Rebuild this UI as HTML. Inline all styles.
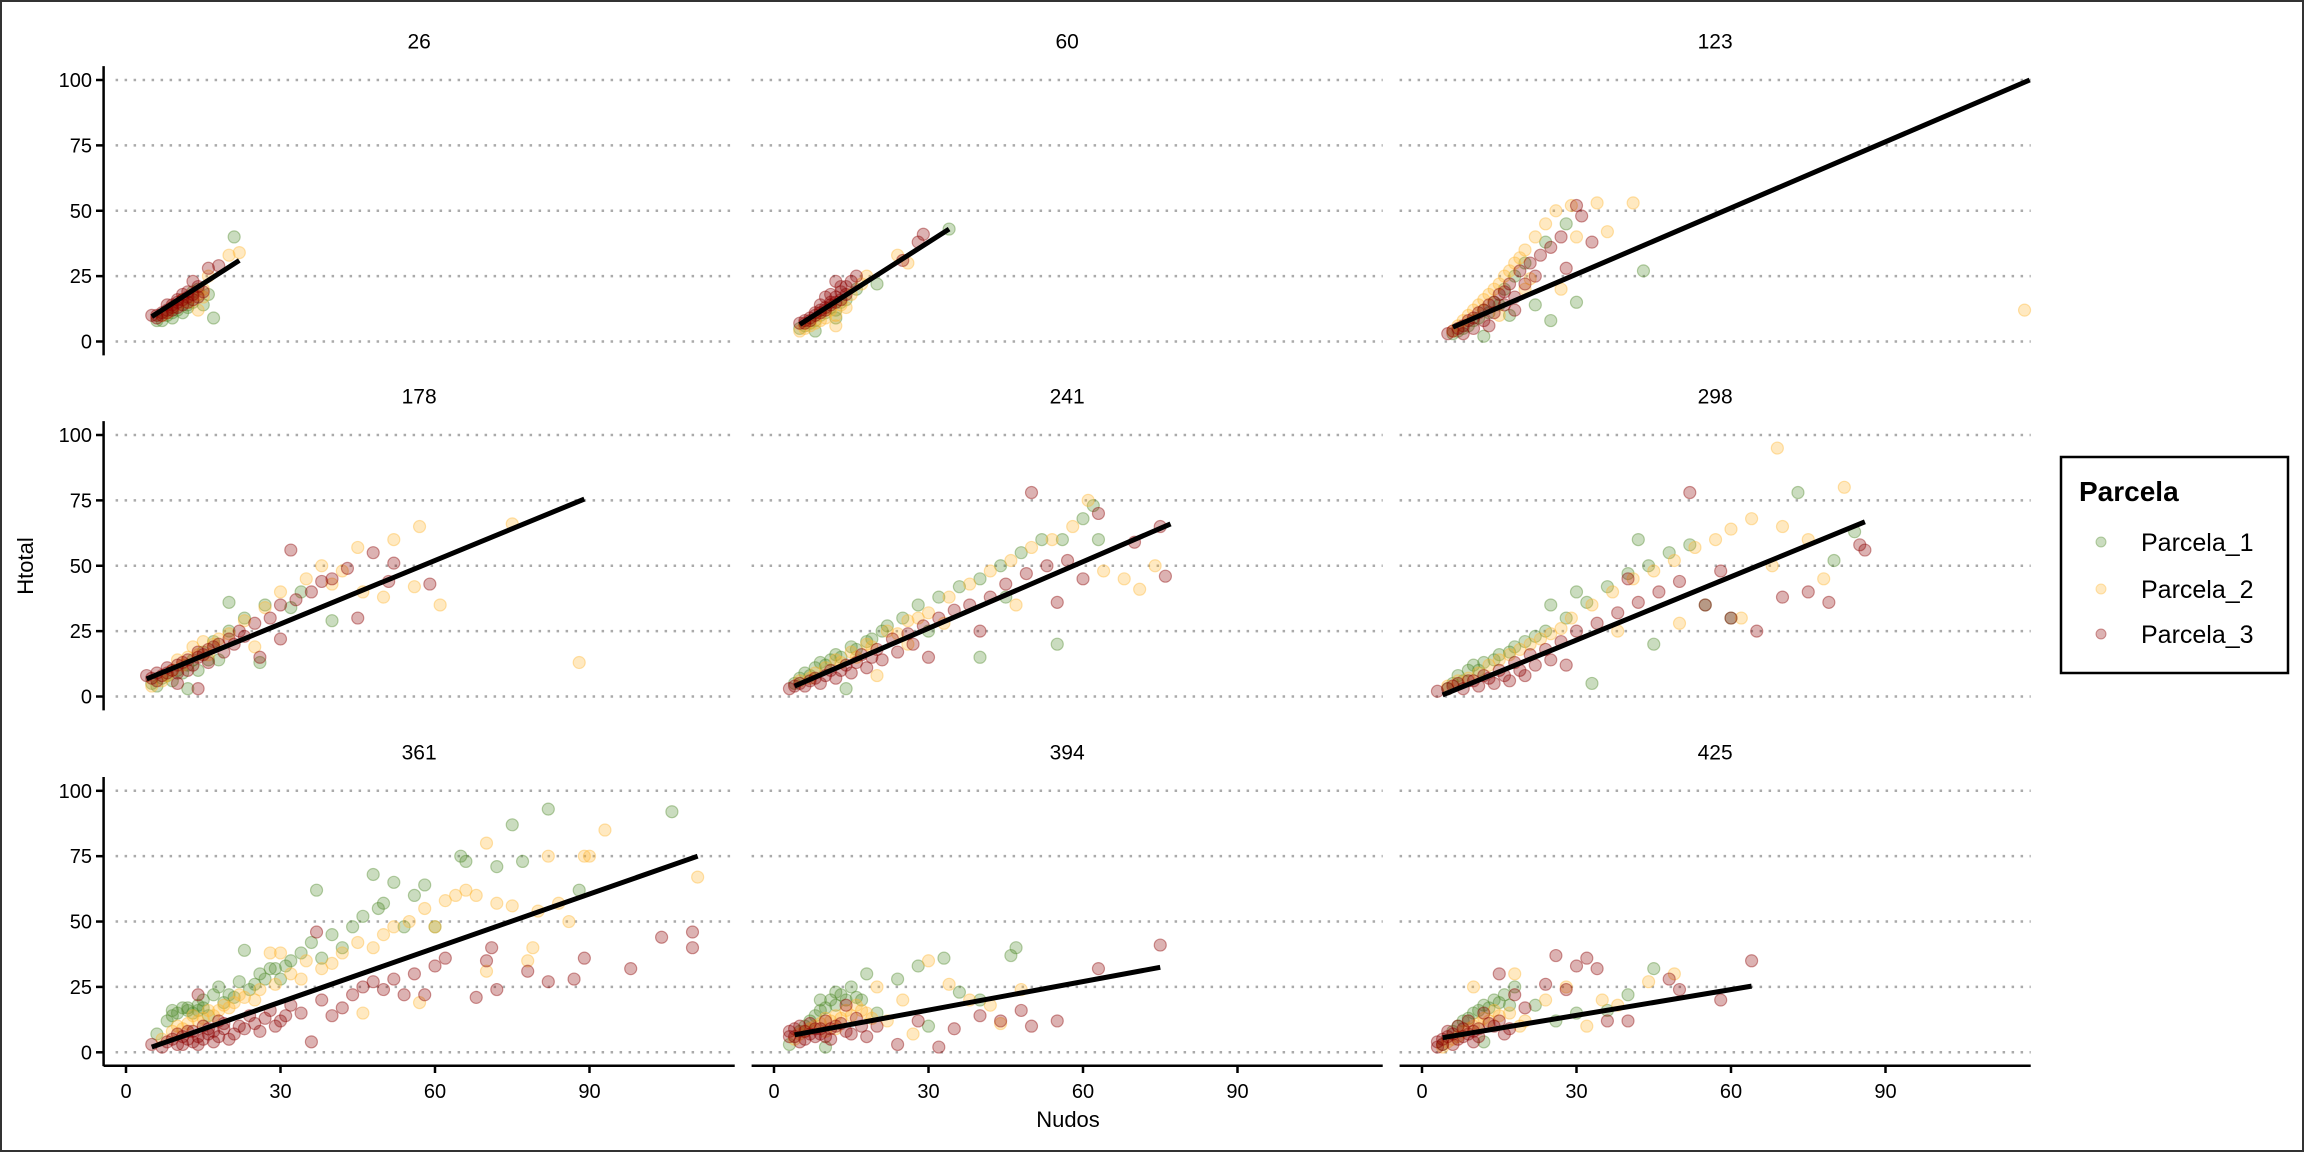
<!DOCTYPE html>
<html><head><meta charset="utf-8"><style>
html,body{margin:0;padding:0;background:#fff}
svg{display:block;font-family:"Liberation Sans",Arial,sans-serif}
</style></head><body>
<svg id="chart" width="2304" height="1152" viewBox="0 0 2304 1152">
<rect x="1" y="1" width="2302" height="1150" fill="#fff" stroke="#333" stroke-width="2"/>
<g id="panels"></g>
<text x="1068" y="1127" font-size="22" text-anchor="middle">Nudos</text>
<text x="0" y="0" font-size="22" text-anchor="middle" transform="translate(33,566) rotate(-90)">Htotal</text>
<g>
<rect x="2061" y="457" width="227" height="216" fill="#fff" stroke="#000" stroke-width="2.5"/>
<text x="2079" y="501" font-size="28" font-weight="bold">Parcela</text>
<g><circle cx="2101" cy="542" r="5" fill="#4f8a2a" fill-opacity="0.3" stroke="#4f8a2a" stroke-opacity="0.4"/><text x="2141" y="551" font-size="25">Parcela_1</text></g>
<g><circle cx="2101" cy="589" r="5" fill="#ffb733" fill-opacity="0.3" stroke="#ffb733" stroke-opacity="0.4"/><text x="2141" y="598" font-size="25">Parcela_2</text></g>
<g><circle cx="2101" cy="634" r="5" fill="#8b0000" fill-opacity="0.3" stroke="#8b0000" stroke-opacity="0.4"/><text x="2141" y="643" font-size="25">Parcela_3</text></g>
</g>
</svg>
<script>
const panelTitles = ["26","60","123","178","241","298","361","394","425"];
const yTicks = [0,25,50,75,100];
const xTicks = [0,30,60,90];
const fitLines = [[5,9.5,22,31],[5,6.5,34,43],[6,5.5,118,100],[4,6.7,89,75.5],[4,4,77,66],[4,0.6,86,66.8],[5,2,111,75],[4,6.7,75,32.5],[4,5.6,64,25.3]];
const p1 = [
[[6,8],[8,10],[10,12],[12,14],[13,19],[14,20],[17,9],[21,40],[9,11],[7,8],[9,9],[11,11],[12,13],[13,15],[15,14],[16,18]],
[[5,5],[7,7],[9,10],[11,13],[12,9],[14,16],[16,20],[20,22],[34,43],[8,4],[6,6],[8,8],[10,11],[12,12],[13,15]],
[[6,3],[8,5],[10,8],[12,12],[14,15],[16,20],[18,25],[20,30],[22,14],[25,8],[30,15],[28,45],[43,27],[24,38],[12,2],[17,10],[7,4],[9,6],[11,9],[13,11],[15,14]],
[[5,5],[8,8],[10,10],[13,14],[15,17],[17,21],[20,25],[23,30],[27,35],[32,34],[34,40],[26,13],[18,14],[12,3],[40,29],[20,36],[6,4],[7,7],[9,6],[11,9],[12,12],[14,10],[16,14]],
[[4,5],[7,8],[10,12],[13,15],[16,18],[19,22],[22,27],[25,30],[28,35],[32,38],[36,42],[40,45],[44,50],[48,55],[52,60],[56,60],[60,68],[62,73],[55,20],[40,15],[30,25],[14,3],[63,60],[45,38],[5,7],[6,9],[8,11],[9,13],[11,14],[12,16],[15,19],[18,21],[21,25]],
[[5,3],[8,6],[11,10],[14,14],[17,17],[20,21],[24,25],[28,30],[32,36],[36,42],[40,47],[44,50],[48,55],[52,58],[73,78],[80,52],[84,63],[60,30],[45,20],[30,40],[25,35],[42,60],[33,5],[55,35],[6,5],[7,8],[9,10],[10,12],[12,13],[15,16],[18,19],[22,23]],
[[6,7],[8,12],[9,16],[11,17],[12,16],[14,18],[15,20],[17,22],[18,25],[20,22],[22,27],[24,24],[26,30],[28,32],[30,28],[32,35],[34,38],[36,42],[37,62],[38,36],[40,45],[42,40],[44,48],[46,52],[48,68],[49,55],[50,57],[52,65],[54,48],[56,60],[58,64],[60,48],[65,75],[66,73],[72,71],[75,87],[77,73],[82,93],[106,92],[88,62],[23,39],[9,14],[10,15],[12,17],[13,15],[14,16],[15,17],[16,14],[19,19],[21,21],[25,26],[27,28],[29,32],[31,33]],
[[3,3],[5,8],[7,12],[9,16],[11,20],[13,22],[15,25],[17,20],[20,15],[24,28],[28,33],[33,36],[36,23],[40,20],[47,40],[46,37],[30,10],[10,2],[18,30],[6,10],[8,14],[10,17],[12,18],[14,20],[16,21],[12,23],[9,20]],
[[4,3],[6,8],[8,12],[10,15],[12,18],[14,20],[16,22],[18,25],[22,18],[26,12],[30,15],[36,16],[40,22],[45,32],[12,4],[7,10],[9,13],[11,16],[13,17],[15,19],[17,18]]
];
const p2 = [
[[7,10],[9,13],[11,16],[13,17],[14,12],[15,20],[16,25],[20,33],[22,34],[10,14],[8,11],[12,15],[14,18],[15,17]],
[[5,4],[7,6],[9,8],[11,12],[13,14],[15,18],[17,22],[18,25],[24,33],[26,30],[12,6],[6,5],[8,7],[10,9],[12,10],[14,13]],
[[6,4],[8,8],[10,12],[12,16],[14,20],[16,25],[18,30],[20,35],[22,40],[24,45],[26,50],[29,52],[34,53],[41,53],[117,12],[15,10],[27,20],[20,20],[30,40],[36,42],[7,6],[9,10],[11,14],[13,18],[15,22],[17,27],[19,32],[21,24]],
[[5,4],[8,8],[11,12],[14,16],[17,20],[20,24],[23,29],[27,34],[30,40],[35,45],[38,50],[42,48],[46,40],[50,38],[56,42],[57,65],[61,35],[75,66],[88,13],[45,57],[40,43],[52,60],[25,19],[7,6],[9,10],[10,14],[12,15],[13,19],[15,21],[16,16],[18,22]],
[[5,6],[8,9],[12,14],[15,17],[18,20],[22,25],[26,29],[30,32],[34,38],[38,43],[42,48],[46,52],[50,57],[54,60],[58,65],[61,75],[64,48],[68,45],[71,41],[74,50],[47,35],[33,28],[26,20],[20,8],[7,7],[10,11],[13,13],[16,15],[19,19],[24,24],[28,30]],
[[5,4],[9,7],[13,12],[17,16],[21,20],[25,24],[29,30],[33,35],[37,40],[41,45],[45,48],[49,52],[53,57],[57,60],[60,64],[64,68],[69,95],[70,65],[78,45],[82,80],[68,50],[62,30],[38,25],[50,28],[75,60],[7,6],[11,9],[15,14],[19,18],[23,22],[27,26]],
[[7,5],[10,10],[13,14],[16,16],[19,18],[22,22],[25,20],[28,38],[30,38],[32,30],[35,35],[38,32],[42,38],[45,42],[48,40],[50,45],[52,48],[55,50],[58,55],[60,48],[62,58],[64,60],[66,62],[68,60],[70,80],[72,57],[75,56],[79,40],[80,54],[82,75],[84,57],[86,50],[89,75],[90,75],[93,85],[111,67],[57,19],[46,15],[70,31],[78,35],[9,8],[11,9],[12,11],[14,12],[15,13],[17,14],[18,16],[20,17],[21,19],[23,21],[26,24],[29,26],[34,28],[40,34]],
[[4,5],[6,8],[8,10],[10,13],[12,14],[14,16],[16,18],[18,15],[22,12],[25,20],[30,35],[34,26],[38,20],[42,18],[44,11],[48,24],[27,7],[20,25],[5,7],[7,9],[9,11],[11,12],[13,13],[15,14],[17,16],[19,13],[10,8],[12,9]],
[[4,2],[6,5],[8,8],[10,10],[12,13],[14,16],[18,30],[20,12],[24,20],[28,25],[32,10],[35,20],[38,18],[44,27],[49,30],[10,25],[5,4],[7,6],[9,9],[11,11],[13,12],[15,14],[17,15],[19,10]]
];
const p3 = [
[[5,10],[6,10],[7,11],[8,12],[9,13],[10,15],[11,16],[12,17],[13,18],[14,21],[16,28],[18,29],[8,14],[11,18],[13,23],[6,9],[7,10],[8,11],[9,12],[10,13],[11,14],[12,15],[13,16],[14,17],[15,19],[9,14],[10,16],[12,19]],
[[5,7],[6,8],[7,9],[8,11],[9,12],[10,13],[11,15],[12,17],[13,19],[14,21],[15,23],[16,25],[25,31],[29,41],[28,38],[10,17],[12,23],[6,7],[7,8],[8,10],[9,11],[10,12],[11,14],[12,15],[13,16],[14,18],[9,14],[11,18],[13,21]],
[[5,3],[7,5],[9,8],[11,11],[13,14],[15,18],[17,22],[19,27],[21,30],[23,33],[25,36],[27,40],[30,52],[31,48],[28,28],[18,12],[13,6],[33,38],[6,4],[8,6],[10,9],[12,12],[14,15],[16,19],[8,3],[10,5],[12,8],[14,11],[16,14],[18,17],[20,22],[22,25]],
[[4,8],[6,6],[8,9],[10,12],[12,10],[14,15],[16,18],[18,20],[20,22],[22,25],[25,28],[28,30],[30,35],[33,37],[36,40],[38,44],[40,45],[43,49],[48,55],[52,51],[51,44],[59,43],[45,30],[26,15],[30,22],[10,5],[14,3],[32,56],[5,7],[6,9],[7,8],[8,11],[9,10],[10,9],[11,13],[12,14],[13,12],[14,17],[15,16],[16,13],[17,19],[19,17],[21,20],[23,23]],
[[3,3],[5,5],[8,7],[11,10],[14,12],[17,16],[20,18],[23,22],[26,24],[29,27],[32,30],[35,33],[38,35],[42,38],[45,43],[49,47],[53,50],[57,52],[50,78],[63,70],[70,59],[75,65],[76,46],[55,36],[40,25],[30,15],[60,45],[4,4],[6,4],[7,6],[9,5],[10,8],[12,7],[13,10],[15,9],[16,13],[18,11],[19,15],[21,14],[24,17],[27,20]],
[[3,2],[6,4],[9,6],[12,8],[15,10],[18,13],[21,16],[24,18],[27,21],[30,25],[34,28],[38,32],[42,36],[46,40],[50,44],[52,78],[55,35],[60,30],[65,25],[70,38],[75,40],[79,36],[85,58],[86,56],[58,48],[40,45],[28,12],[5,3],[7,5],[8,3],[10,6],[11,4],[13,7],[14,5],[16,8],[17,6],[19,10],[20,8],[22,12],[25,14]],
[[5,3],[7,2],[8,4],[10,3],[11,6],[12,5],[13,8],[14,3],[15,10],[16,7],[17,4],[18,12],[19,9],[20,5],[22,10],[24,14],[26,8],[28,16],[30,12],[32,18],[34,15],[36,4],[38,20],[40,14],[42,17],[44,22],[46,25],[48,27],[50,24],[52,28],[54,22],[56,30],[58,22],[60,33],[62,36],[68,21],[70,35],[71,40],[72,24],[78,31],[82,27],[87,28],[89,36],[98,32],[104,44],[110,40],[110,46],[37,46],[14,22],[9,5],[10,7],[11,3],[12,8],[13,4],[14,6],[15,5],[16,9],[17,8],[18,6],[19,11],[21,7],[23,9],[25,11],[27,13],[29,10],[31,14]],
[[3,6],[4,9],[5,4],[6,8],[7,11],[8,6],[9,9],[10,12],[11,5],[12,10],[14,8],[16,13],[18,6],[20,10],[24,3],[28,12],[32,2],[35,9],[40,14],[44,12],[48,16],[50,10],[55,12],[63,32],[75,41],[14,18],[3,8],[4,6],[5,10],[6,5],[7,7],[8,9],[9,7],[10,6],[11,9],[13,11],[15,7],[17,10]],
[[3,2],[4,5],[5,8],[6,3],[7,10],[8,6],[9,12],[10,4],[11,9],[12,15],[14,10],[16,7],[18,22],[20,17],[24,26],[26,37],[28,24],[30,33],[32,36],[34,32],[36,12],[40,12],[48,28],[50,24],[58,20],[64,35],[15,30],[3,4],[4,3],[5,6],[6,7],[7,5],[8,9],[9,7],[10,8],[11,6],[13,11],[15,12],[17,9]]
];
const NS="http://www.w3.org/2000/svg";
const root=document.getElementById('panels');
const colX0=[126,774,1422], rowY0=[341.5,696.5,1052.3], XS=5.15, YS=2.615;
function sx(c,v){return colX0[c]+v*XS;}
function sy(r,v){return rowY0[r]-v*YS;}
function mk(tag,attrs,parent){const e=document.createElementNS(NS,tag);for(const k in attrs)e.setAttribute(k,attrs[k]);parent.appendChild(e);return e;}
const cols=[["#4f8a2a",p1,"parcela-1"],["#ffb733",p2,"parcela-2"],["#8b0000",p3,"parcela-3"]];
for(let i=0;i<9;i++){
  const r=Math.floor(i/3), c=i%3;
  const g=mk('g',{},root);
  
  
  const left=sx(c,-4.35), right=sx(c,118.2);
  const t=mk('text',{x:(left+right)/2,y:rowY0[r]-293,'font-size':21,'text-anchor':'middle'},g);
  t.textContent=panelTitles[i];
  
  
  for(const v of yTicks){
    const gl=mk('line',{x1:c===0?left+12:left,x2:right,y1:sy(r,v),y2:sy(r,v),stroke:'#aaa','stroke-width':2.5,'stroke-dasharray':'2.5 6.5'},g);
    
    
  }
  if(c===0){
    const ax=mk('line',{x1:103.6,x2:103.6,y1:sy(r,105.3),y2:sy(r,-5.3),stroke:'#000','stroke-width':2.5},g);
    
    
    for(const v of yTicks){
      mk('line',{x1:96,x2:103.6,y1:sy(r,v),y2:sy(r,v),stroke:'#000','stroke-width':2.5},g);
      const tl=mk('text',{x:92,y:sy(r,v)+7,'font-size':20,'text-anchor':'end'},g);
      tl.textContent=v;
      
      
    }
  }
  if(r===2){
    const ax=mk('line',{x1:left,x2:right,y1:1065.7,y2:1065.7,stroke:'#000','stroke-width':2.5},g);
    
    
    for(const v of xTicks){
      mk('line',{x1:sx(c,v),x2:sx(c,v),y1:1065.7,y2:1073,stroke:'#000','stroke-width':2.5},g);
      const tl=mk('text',{x:sx(c,v),y:1098,'font-size':20,'text-anchor':'middle'},g);
      tl.textContent=v;
      
      
    }
  }
  for(const [color,arr,nm] of cols){
    const sg=mk('g',{},g);
    
    
    for(const [x,y] of arr[i]){
      const p=mk('circle',{cx:sx(c,x),cy:sy(r,y),r:6,fill:color,'fill-opacity':0.3,stroke:color,'stroke-opacity':0.4,'stroke-width':1.2},sg);
      
      
    }
  }
  const L=fitLines[i];
  const ln=mk('line',{x1:sx(c,L[0]),y1:sy(r,L[1]),x2:sx(c,L[2]),y2:sy(r,L[3]),stroke:'#000','stroke-width':5},g);
  
  
}
</script>
</body></html>
